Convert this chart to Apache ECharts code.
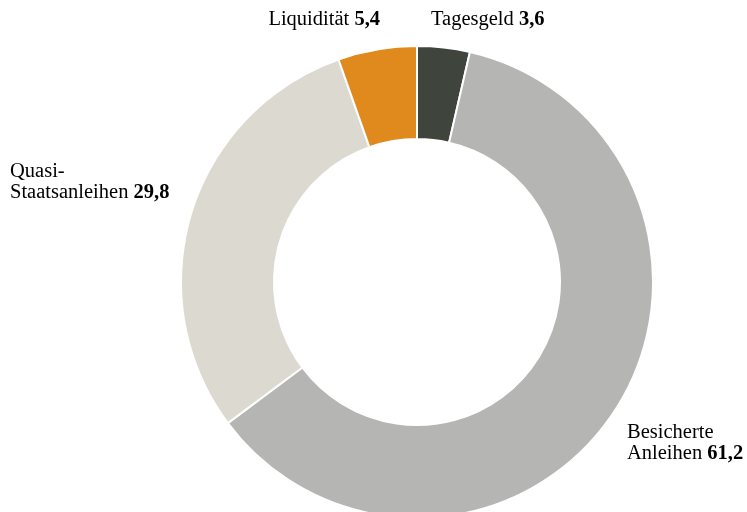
<!DOCTYPE html>
<html><head><meta charset="utf-8">
<script src="https://cdn.jsdelivr.net/npm/echarts@6/dist/echarts.min.js"></script>
<style>html,body{margin:0;padding:0;background:#fff}#c{width:747px;height:512px}</style>
</head><body><div id="c"></div>
<script>
const names = ['Tagesgeld', 'Besicherte Anleihen', 'Quasi-Staatsanleihen', 'Liquidität'];
const labelLines = [['Tagesgeld'], ['Besicherte', 'Anleihen'], ['Quasi-', 'Staatsanleihen'], ['Liquidität']];
const values = [3.6, 61.2, 29.8, 5.4];
const colors = ['#3f443c', '#b5b5b3', '#dcdad0', '#e0891c'];

const fmt = v => v.toFixed(1).replace('.', ',');
const chart = echarts.init(document.getElementById('c'), null, {renderer: 'canvas'});
const FONT = '"Liberation Serif", "DejaVu Serif", serif';

function labelText(i) {
  const lines = labelLines[i];
  const out = lines.slice(0, -1).map(l => '{n|' + l + '}');
  out.push('{n|' + lines[lines.length - 1] + ' }{b|' + fmt(values[i]) + '}');
  return out.join('\n');
}
const rich = {
  n: {fontFamily: FONT, fontSize: 20.5, color: '#2a2a2a', lineHeight: 21},
  b: {fontFamily: FONT, fontSize: 20.5, fontWeight: 'bold', color: '#2a2a2a', lineHeight: 21}
};
// label anchor positions (left/right, top)
const labelPos = [
  {left: 431, top: 9, align: 'left'},
  {left: 627, top: 422, align: 'left'},
  {left: 10, top: 161, align: 'left'},
  {right: 367, top: 9, align: 'right'}
];

chart.setOption({
  backgroundColor: '#ffffff',
  animation: false,
  series: [{
    type: 'pie',
    center: [417, 282],
    radius: [143, 236],
    startAngle: 90,
    clockwise: true,
    label: {show: false},
    labelLine: {show: false},
    itemStyle: {borderColor: '#ffffff', borderWidth: 2},
    emphasis: {disabled: true},
    data: names.map((n, i) => ({name: n, value: values[i], itemStyle: {color: colors[i]}}))
  }],
  graphic: names.map((n, i) => {
    const p = labelPos[i];
    const g = {type: 'text', top: p.top, style: {text: labelText(i), rich: rich, align: p.align}};
    if (p.left !== undefined) g.left = p.left; else g.right = p.right;
    return g;
  })
});
</script></body></html>
